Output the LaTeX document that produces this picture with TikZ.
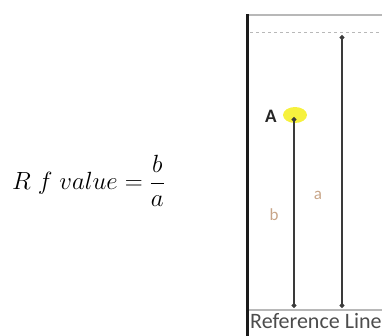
\documentclass[tikz,border=0pt]{standalone}
\usepackage{fontspec}
\setsansfont{Carlito}
\usetikzlibrary{arrows.meta}
\definecolor{platewall}{HTML}{1A1A1A}
\definecolor{platerim}{HTML}{B8B8B8}
\definecolor{spotyellow}{HTML}{F4EE1C}
\definecolor{labeltan}{HTML}{C8A588}
\definecolor{runline}{HTML}{3A3A3A}

\begin{document}
\begin{tikzpicture}[x=1pt,y=-1pt,
    dist/.style={{Circle[length=5pt]}-{Circle[length=5pt]},line width=1.1pt,draw=runline},
    tanlbl/.style={text=labeltan,font=\sffamily\fontsize{17}{17}\selectfont,inner sep=0pt}
  ]
    \useasboundingbox (0,0) rectangle (382,335);
    \clip (0,0) rectangle (382,335);
    % formula
    \node[anchor=west,inner sep=0pt,font=\fontsize{23}{27}\selectfont] (rf) at (12,181)
      {$\displaystyle R\;f\;value=\frac{b}{a}$};
    % plate
    \draw[platerim,line width=2pt] (247,15) -- (390,15);
    \draw[platerim,dashed,line width=0.8pt] (250,32) -- (390,32);
    \draw[platerim,line width=1.2pt] (249,310) -- (390,310);
    \draw[platewall,line width=3pt] (247,14) -- (247,340);
    \node[anchor=base west,inner sep=0pt,text=black!70,font=\sffamily\fontsize{22}{22}\selectfont] (ref) at (250,328) {Reference Line};
    % spot and runs
    \fill[spotyellow,opacity=0.85] (295,115) ellipse (12 and 8);
    \coordinate (front) at (342,35);
    \coordinate (spot) at (294,117);
    \coordinate (baseb) at (294,308);
    \coordinate (basea) at (342,308);
    \draw[dist] (spot) -- (baseb);
    \draw[dist] (front) -- (basea);
    \node[inner sep=0pt,font=\sffamily\bfseries\fontsize{19}{19}\selectfont,text=black!85] (A) at (271,116) {A};
    \node[tanlbl] (b) at (274,215) {b};
    \node[tanlbl] (a) at (318,195) {a};
  \end{tikzpicture}
\end{document}
